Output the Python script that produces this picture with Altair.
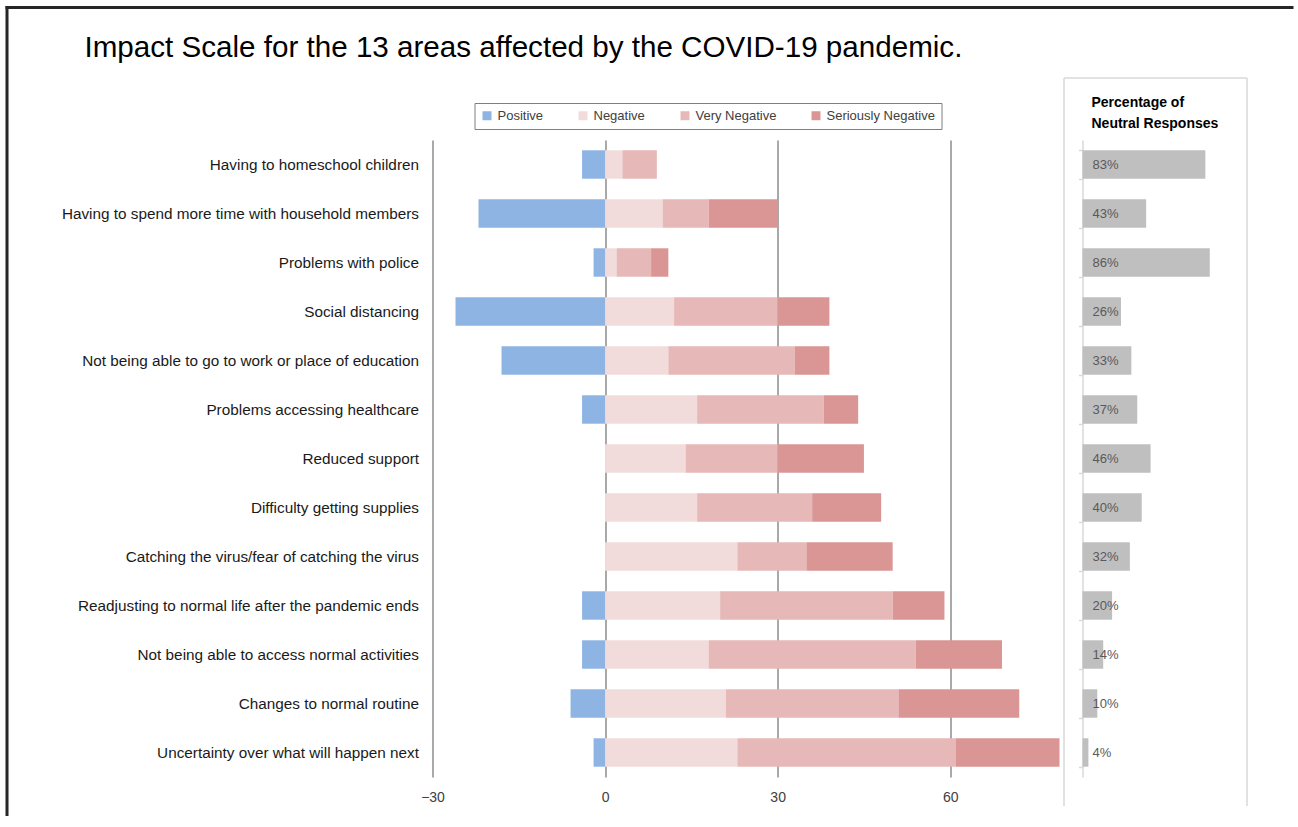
import altair as alt
import pandas as pd

categories = [
    "Having to homeschool children",
    "Having to spend more time with household members",
    "Problems with police",
    "Social distancing",
    "Not being able to go to work or place of education",
    "Problems accessing healthcare",
    "Reduced support",
    "Difficulty getting supplies",
    "Catching the virus/fear of catching the virus",
    "Readjusting to normal life after the pandemic ends",
    "Not being able to access normal activities",
    "Changes to normal routine",
    "Uncertainty over what will happen next",
]
positive = [4, 22, 2, 26, 18, 4, 0, 0, 0, 4, 4, 6, 2]
negative = [3, 10, 2, 12, 11, 16, 14, 16, 23, 20, 18, 21, 23]
very_negative = [6, 8, 6, 18, 22, 22, 16, 20, 12, 30, 36, 30, 38]
seriously_negative = [0, 12, 3, 9, 6, 6, 15, 12, 15, 9, 15, 21, 18]
neutral = [83, 43, 86, 26, 33, 37, 46, 40, 32, 20, 14, 10, 4]

levels = ["Positive", "Negative", "Very Negative", "Seriously Negative"]
level_colors = ["#8EB4E3", "#F2DCDB", "#E6B9B8", "#D99694"]
x_ticks = [-30, 0, 30, 60]

title_text = "Impact Scale for the 13 areas affected by the COVID-19 pandemic."
panel_title = "Percentage of\nNeutral Responses"

rows = []
series = [positive, negative, very_negative, seriously_negative]
for i, c in enumerate(categories):
    for j, lvl in enumerate(levels):
        v = series[j][i]
        rows.append({"area": c, "level": lvl, "order": j,
                     "value": -v if lvl == "Positive" else v})
impact = pd.DataFrame(rows)
neutral_df = pd.DataFrame({"area": categories, "neutral": neutral,
                           "label": [f"{n}%" for n in neutral]})
one = pd.DataFrame({"k": [0]})

FONT = "Liberation Sans"
W, H = 627, 637

y_main = alt.Y(
    "area:N", sort=categories, title=None,
    scale=alt.Scale(paddingInner=0.42, paddingOuter=0.21),
    axis=alt.Axis(domain=False, ticks=False, labelPadding=14, labelFontSize=15.3,
                  labelColor="#1a1a1a", labelFont=FONT, labelLimit=600),
)

bars = alt.Chart(impact).mark_bar().encode(
    x=alt.X(
        "value:Q", stack="zero", title=None,
        scale=alt.Scale(domain=[-30, 79], nice=False, zero=False),
        axis=alt.Axis(values=x_ticks, grid=True, gridColor="#8d8d8d", gridWidth=1.5,
                      domain=False, ticks=False, labelPadding=13, labelFontSize=14,
                      labelColor="#404040", labelFont=FONT, labelFlush=False),
    ),
    y=y_main,
    color=alt.Color(
        "level:N", scale=alt.Scale(domain=levels, range=level_colors),
        legend=alt.Legend(title=None, orient="none", legendX=42, legendY=-37,
                          direction="horizontal", symbolType="square", symbolSize=81,
                          symbolStrokeWidth=0, labelFontSize=13, labelFont=FONT,
                          labelColor="#404040", labelOffset=4, columnPadding=33,
                          padding=6, strokeColor="#7f7f7f", fillColor="white"),
    ),
    order=alt.Order("order:Q"),
)

y_right = alt.Y(
    "area:N", sort=categories, title=None,
    scale=alt.Scale(paddingInner=0.42, paddingOuter=0.21),
    axis=alt.Axis(orient="left", offset=-650, labels=False, domain=True,
                  domainColor="#d9d9d9", domainWidth=1.5, ticks=True, tickColor="#d9d9d9",
                  tickWidth=1.5, tickSize=4, tickBand="extent", title=None),
)
x_right = alt.X("neutral:Q", title=None, axis=None,
                scale=alt.Scale(domain=[0, 100], range=[650, 798], nice=False))

nbars = alt.Chart(neutral_df).mark_bar(color="#BFBFBF").encode(x=x_right, y=y_right)
nlabels = alt.Chart(neutral_df).mark_text(
    align="left", baseline="middle", fontSize=13, font=FONT, color="#595959"
).encode(x=alt.value(660), y=y_right, text="label:N")
right = alt.layer(nbars, nlabels)

deco = alt.Chart(one)
page_top = deco.mark_rule(color="#262626", strokeWidth=3).encode(
    x=alt.value(-427), x2=alt.value(861), y=alt.value(-132.5))
page_left = deco.mark_rule(color="#262626", strokeWidth=3).encode(
    x=alt.value(-425.5), y=alt.value(-134), y2=alt.value(676))
box_l = deco.mark_rule(color="#d9d9d9", strokeWidth=1.5).encode(
    x=alt.value(631.5), y=alt.value(-62), y2=alt.value(666))
box_r = deco.mark_rule(color="#d9d9d9", strokeWidth=1.5).encode(
    x=alt.value(814.5), y=alt.value(-62), y2=alt.value(666))
box_t = deco.mark_rule(color="#d9d9d9", strokeWidth=1.5).encode(
    x=alt.value(631.5), x2=alt.value(814.5), y=alt.value(-62))
title = deco.mark_text(align="left", baseline="alphabetic", fontSize=29.6, font=FONT,
                       color="#000000").encode(
    x=alt.value(-348), y=alt.value(-83), text=alt.value(title_text))
ptitle = deco.mark_text(align="left", baseline="top", fontSize=14, fontWeight="bold",
                        lineHeight=21, font=FONT, color="#000000", lineBreak="\n").encode(
    x=alt.value(659), y=alt.value(-44), text=alt.value(panel_title))

chart = alt.layer(
    bars, right, page_top, page_left, box_l, box_r, box_t, title, ptitle
).resolve_scale(x="independent", y="independent").properties(
    width=W, height=H,
    padding={"left": 3.5, "top": 4, "right": 0, "bottom": 0},
).configure_view(stroke=None)

chart.save("out.html", embed_options={"renderer": "svg", "actions": False})
